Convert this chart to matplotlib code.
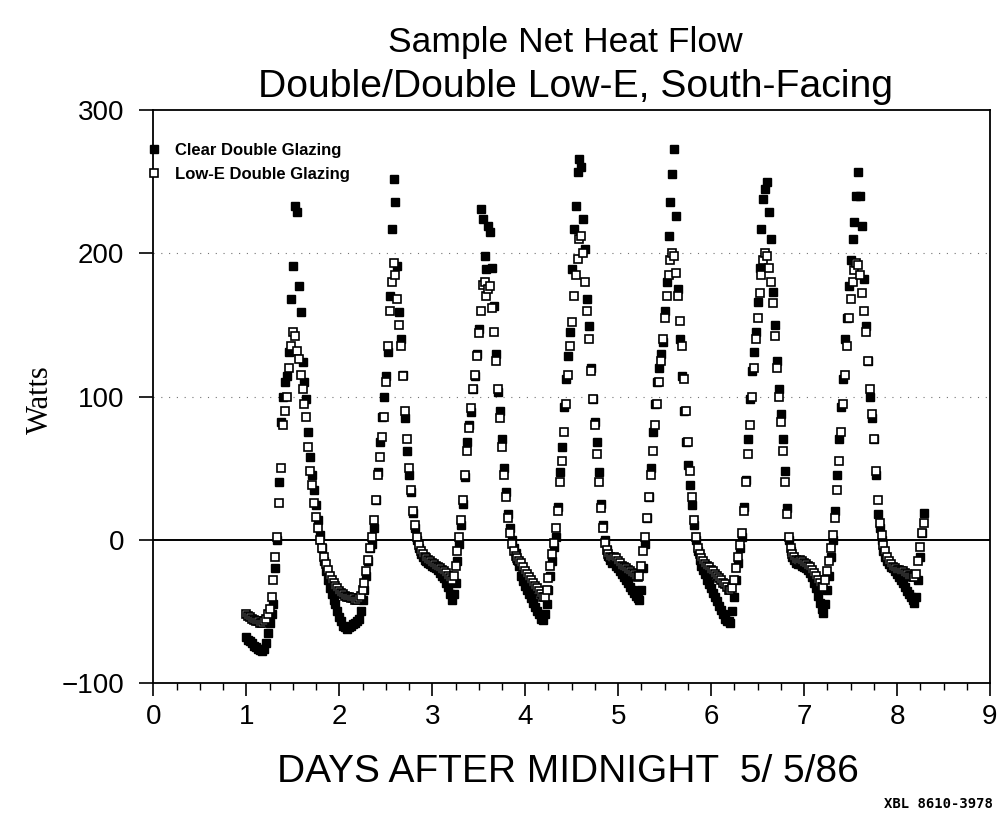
import numpy as np
import matplotlib
matplotlib.use("Agg")
import matplotlib.pyplot as plt
from matplotlib.ticker import MultipleLocator

# net heat flow, one sample every half hour from day 1.0
first_day = 1.0
step_days = 0.5 / 24

clear_watts = [
    -68, -70, -71, -72, -74, -75, -76, -77, -78, -76, -72, -65, -58, -52, -45, -20, 0, 40,
    82, 100, 110, 114, 131, 168, 191, 233, 229, 177, 159, 124, 110, 98, 75, 58, 45, 35, 24, 14,
    3, -6, -15, -22, -28, -34, -38, -42,
    # day 2
    -45, -50, -54, -57, -60, -61, -62, -61, -60, -59, -58, -57, -55, -50, -42, -35, -25, -15, -6, -3,
    8, 28, 47, 68, 86, 100, 114, 131, 170, 217, 252, 236, 191, 159, 140, 115, 85, 62, 45, 33,
    19, 8, 0, -6, -10, -12, -14, -15,
    # day 3
    -16, -17, -18, -19, -20, -21, -23, -25, -27, -30, -33, -38, -42, -38, -30, -15, -3, 10, 25, 44,
    68, 80, 89, 105, 114, 130, 147, 231, 224, 198, 189, 219, 215, 190, 163, 130, 103, 90, 70, 50,
    33, 18, 8, 0, -6, -9, -14, -18,
    # day 4
    -25, -29, -32, -35, -38, -41, -44, -47, -50, -52, -55, -56, -52, -45, -35, -25, -15, -5, 2, 23,
    47, 65, 93, 112, 128, 145, 189, 217, 233, 257, 266, 260, 224, 203, 168, 149, 120, 98, 82, 68,
    47, 25, 10, 0, -7, -11, -14, -16,
    # day 5
    -15, -18, -20, -22, -24, -26, -28, -30, -33, -35, -37, -39, -41, -42, -35, -20, -3, 15, 30, 50,
    75, 95, 110, 120, 130, 138, 160, 180, 212, 236, 255, 273, 226, 175, 140, 114, 90, 68, 52, 38,
    24, 10, 0, -8, -14, -18, -21, -24,
    # day 6
    -28, -31, -34, -37, -40, -43, -46, -49, -52, -55, -57, -57, -58, -50, -40, -28, -16, -6, 2, 23,
    42, 70, 98, 118, 131, 145, 166, 190, 217, 238, 245, 250, 229, 210, 173, 150, 125, 105, 88, 70,
    48, 22, 0, -8, -12, -14, -16, -17,
    # day 7
    -17, -18, -19, -20, -21, -23, -26, -30, -34, -39, -44, -48, -51, -45, -35, -25, -12, 0, 20, 45,
    70, 93, 112, 140, 155, 177, 195, 210, 222, 240, 257, 240, 219, 182, 149, 125, 100, 85, 70, 45,
    18, 8, 0, -8, -12, -15, -17, -19,
    # day 8
    -20, -22, -24, -26, -28, -30, -33, -36, -38, -40, -42, -44, -40, -28, -12, 5, 19,
]

lowe_watts = [
    -52, -53, -54, -55, -56, -57, -57, -58, -58, -57, -55, -52, -48, -40, -28, -12, 2, 26,
    50, 80, 90, 100, 120, 135, 145, 142, 132, 126, 115, 105, 95, 86, 65, 48, 38, 26, 16, 8,
    0, -6, -12, -17, -21, -25, -28, -30,
    # day 2
    -32, -34, -36, -37, -38, -39, -40, -40, -41, -41, -42, -42, -41, -39, -35, -30, -22, -14, -6, 2,
    14, 28, 45, 58, 72, 86, 110, 135, 160, 180, 193, 185, 168, 150, 135, 114, 90, 70, 50, 35,
    20, 10, 2, -4, -8, -10, -12, -13,
    # day 3
    -14, -15, -16, -17, -18, -19, -20, -21, -22, -23, -25, -27, -28, -25, -18, -8, 2, 14, 28, 45,
    62, 78, 92, 105, 115, 128, 144, 160, 178, 180, 170, 175, 177, 162, 145, 125, 105, 85, 65, 45,
    30, 15, 5, -3, -8, -11, -13, -15,
    # day 4
    -16, -19, -22, -24, -26, -28, -30, -32, -34, -36, -38, -40, -40, -35, -27, -18, -10, -2, 8, 20,
    40, 55, 75, 95, 115, 135, 152, 170, 185, 196, 210, 212, 200, 180, 160, 140, 118, 98, 80, 60,
    40, 22, 8, -2, -7, -10, -12, -13,
    # day 5
    -12, -13, -15, -16, -18, -19, -20, -21, -22, -23, -24, -25, -26, -25, -18, -8, 2, 15, 30, 45,
    62, 80, 95, 110, 125, 140, 155, 170, 185, 195, 200, 198, 186, 170, 153, 135, 112, 90, 68, 48,
    30, 14, 2, -6, -10, -13, -15, -17,
    # day 6
    -18, -19, -21, -22, -24, -25, -27, -28, -30, -31, -33, -35, -35, -34, -28, -20, -12, -4, 5, 20,
    40, 60, 80, 100, 120, 140, 155, 172, 185, 195, 200, 198, 190, 180, 165, 142, 120, 100, 82, 62,
    40, 18, 2, -6, -10, -12, -14, -15,
    # day 7
    -14, -15, -16, -17, -18, -19, -21, -23, -25, -28, -30, -33, -33, -28, -22, -15, -6, 3, 15, 35,
    55, 75, 95, 115, 135, 155, 168, 180, 188, 193, 192, 185, 172, 160, 145, 125, 105, 88, 70, 48,
    28, 12, 3, -4, -8, -12, -15, -17,
    # day 8
    -19, -20, -21, -21, -22, -22, -23, -24, -25, -25, -26, -26, -24, -15, -5, 5, 12,
]

x_ticks = list(range(0, 10))
y_ticks = [-100, 0, 100, 200, 300]
grid_levels = [100, 200]

series_names = ["Clear Double Glazing", "Low-E Double Glazing"]
title_lines = ["Sample Net Heat Flow", "Double/Double Low-E, South-Facing"]
x_label = "DAYS AFTER MIDNIGHT  5/ 5/86"
y_label = "Watts"
tag = "XBL 8610-3978"

SANS = ["Liberation Sans", "DejaVu Sans"]

days = first_day + step_days * np.arange(len(clear_watts))

fig = plt.figure(figsize=(10, 8.13), dpi=100)
ax = fig.add_axes([0.1534, 0.1599, 0.8366, 0.7048])

for level in grid_levels:
    ax.axhline(level, color="0.45", lw=0.8, ls=(0, (1, 6)), zorder=0)
ax.axhline(0, color="black", lw=1.4, zorder=1)

ax.plot(days, clear_watts, ls="none", marker="s", ms=6, color="black",
        label=series_names[0], zorder=2)
ax.plot(days, lowe_watts, ls="none", marker="s", ms=5.5, mfc="white", mec="black",
        mew=1.2, label=series_names[1], zorder=3)

ax.set_xlim(0, 9)
ax.set_ylim(-100, 300)
ax.set_xticks(x_ticks)
ax.set_yticks(y_ticks)
ax.xaxis.set_minor_locator(MultipleLocator(0.25))
ax.tick_params(axis="x", which="major", direction="out", length=9.4, width=1.2, pad=6)
ax.tick_params(axis="x", which="minor", direction="out", length=5, width=1.0)
ax.tick_params(axis="y", which="major", direction="out", length=10, width=1.2, pad=11)
for lab in ax.get_xticklabels() + ax.get_yticklabels():
    lab.set_family(SANS)
    lab.set_fontsize(20)
for sp in ax.spines.values():
    sp.set_linewidth(1.3)

leg = ax.legend(loc="upper left", bbox_to_anchor=(-0.0096, 0.943), frameon=False,
                borderpad=0, borderaxespad=0, handlelength=1.0, handletextpad=0.75,
                labelspacing=0.55, prop={"family": SANS, "weight": "bold", "size": 12})

fig.text(0.565, 1 - 52 / 813, title_lines[0], ha="center", va="baseline",
         family=SANS, fontsize=25.5)
fig.text(0.576, 1 - 97 / 813, title_lines[1], ha="center", va="baseline",
         family=SANS, fontsize=28.2)
fig.text(0.5675, 1 - 782 / 813, x_label, ha="center", va="baseline",
         family=SANS, fontsize=28)
fig.text(0.04, 0.508, y_label, ha="center", va="center", rotation=90,
         family=["Liberation Serif", "DejaVu Serif"], fontsize=22)
fig.text(0.993, 0.011, tag, ha="right", va="center",
         family="DejaVu Sans Mono", weight="bold", fontsize=10)

fig.savefig("out.png", dpi=100)
